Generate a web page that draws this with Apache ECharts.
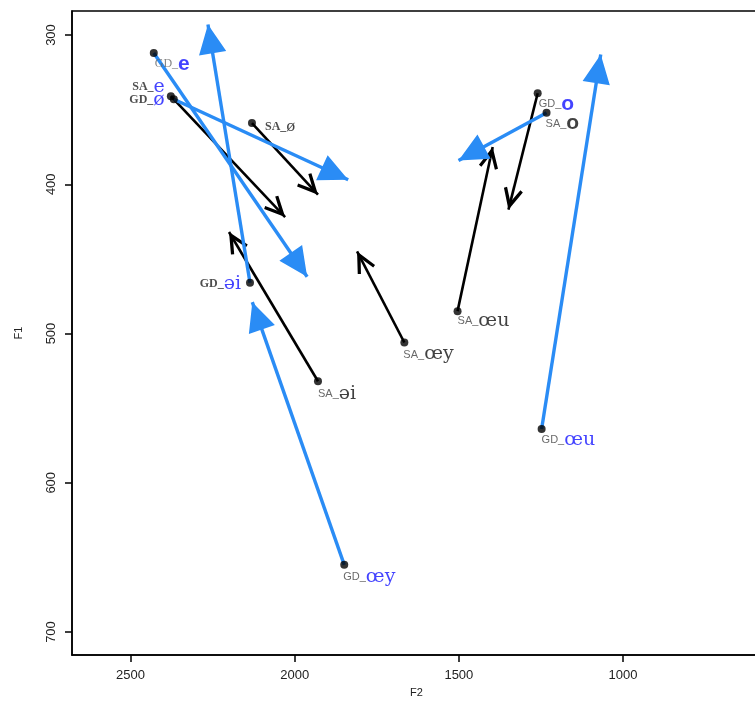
<!DOCTYPE html>
<html>
<head>
<meta charset="utf-8">
<script src="https://cdn.jsdelivr.net/npm/echarts@6/dist/echarts.min.js"></script>
<style>
  html, body { margin: 0; padding: 0; background: #fff; }
  #main { width: 755px; height: 717px; }
</style>
</head>
<body>
<div id="main"></div>
<script>
// vowel trajectories: start point (dot) -> end point (arrow tip), F2 (x) / F1 (y)
var names   = ['GD_e', 'SA_e', 'GD_ø', 'SA_ø', 'GD_əi', 'SA_əi', 'SA_œy', 'SA_œu', 'GD_o', 'SA_o', 'GD_œu', 'GD_œy'];
var startF2 = [2429, 2377, 2368, 2130, 2136, 1929, 1666, 1504, 1260, 1233, 1248, 1849];
var startF1 = [312, 341, 343, 359, 466, 532, 506, 485, 339, 352, 564, 655];
var endF2   = [1962, 2029, 1837, 1929, 2264, 2200, 1810, 1397, 1349, 1501, 1068, 2129];
var endF1   = [462, 422, 397, 407, 293, 432, 445, 375, 417, 384, 313, 479];
// which ink the arrow is drawn in
var arrowInk = ['blue', 'black', 'blue', 'black', 'blue', 'black', 'black', 'black', 'black', 'blue', 'blue', 'blue'];

var xTicks = [1000, 1500, 2000, 2500];
var yTicks = [300, 400, 500, 600, 700];

// label look, per point: [dx, dy, align, prefix style, vowel style]
var labelLook = {
  'GD_e':  [1, 11, 'left', 'ps', 'vsb'],
  'SA_e':  [-6, -9, 'right', 'psk', 'vb'],
  'GD_ø':  [-9, 1, 'right', 'psk', 'vb'],
  'SA_ø':  [13, 4, 'left', 'psk', 'vks'],
  'GD_əi': [-9, 1, 'right', 'psk', 'vb'],
  'SA_əi': [0, 13, 'left', 'pn', 'vk'],
  'SA_œy': [-1, 12, 'left', 'pn', 'vk'],
  'SA_œu': [0, 10, 'left', 'pn', 'vk'],
  'GD_o':  [1, 11, 'left', 'pn', 'vsb'],
  'SA_o':  [-1, 11, 'left', 'pn', 'vsk'],
  'GD_œu': [0, 11, 'left', 'pn', 'vb'],
  'GD_œy': [-1, 12, 'left', 'pn', 'vb']
};

var vowelBlue = '#1414ff';
var lineBlue = '#2a8cf5';

var richStyles = {
  ps:  { fontFamily: 'Liberation Serif', fontSize: 12, color: '#666' },
  psk: { fontFamily: 'Liberation Serif', fontSize: 12, fontWeight: 'bold', color: '#222' },
  pn:  { fontFamily: 'Liberation Sans', fontSize: 11, color: '#444' },
  vb:  { fontFamily: 'DejaVu Serif', fontSize: 19, color: vowelBlue },
  vk:  { fontFamily: 'DejaVu Serif', fontSize: 19, color: '#111' },
  vks: { fontFamily: 'DejaVu Serif', fontSize: 15, color: '#111' },
  vsb: { fontFamily: 'Liberation Sans', fontSize: 21, fontWeight: 'bold', color: vowelBlue },
  vsk: { fontFamily: 'Liberation Sans', fontSize: 21, fontWeight: 'bold', color: '#111' }
};

// arrow heads drawn in a square box whose centre is the tip (corner dummies fix the box)
var filledHead = 'path://M0 0 L0.01 0 L0 0.01 Z M40 40 L39.99 40 L40 39.99 Z M20 20 L29.5 40 L10.5 40 Z';
var openHead = 'path://M0 0 L0.01 0 L0 0.01 Z M32 32 L31.99 32 L32 31.99 Z M16 16 L22.5 29.5 L20.6 30.5 L16 21.2 L11.4 30.5 L9.5 29.5 Z';

var blueLines = [], blackLines = [], dots = [];
for (var i = 0; i < names.length; i++) {
  var seg = { coords: [[startF2[i], startF1[i]], [endF2[i], endF1[i]]] };
  if (arrowInk[i] === 'blue') blueLines.push(seg); else blackLines.push(seg);
  var lk = labelLook[names[i]];
  var parts = names[i].split('_');
  dots.push({
    value: [startF2[i], startF1[i]],
    label: {
      show: true,
      position: 'inside',
      align: lk[2],
      verticalAlign: 'middle',
      offset: [lk[0], lk[1]],
      formatter: '{' + lk[3] + '|' + parts[0] + '_}{' + lk[4] + '|' + parts[1] + '}',
      rich: richStyles
    }
  });
}

function plain(v) { return String(v); }

var chart = echarts.init(document.getElementById('main'));
chart.setOption({
  animation: false,
  backgroundColor: '#fff',
  grid: {
    left: 72, top: 11, right: -6, bottom: 62,
    show: true, borderColor: '#000', borderWidth: 1.5,
    outerBoundsMode: 'none'
  },
  xAxis: {
    type: 'value', inverse: true, min: 580, max: 2678,
    name: 'F2', nameLocation: 'middle', nameGap: 32,
    nameTextStyle: { fontFamily: 'Liberation Sans', fontSize: 11, color: '#222' },
    splitLine: { show: false },
    axisLine: { show: true, lineStyle: { color: '#000', width: 1.5 } },
    axisTick: { show: true, customValues: xTicks, length: 7, lineStyle: { color: '#000', width: 1.5 } },
    axisLabel: { customValues: xTicks, formatter: plain, margin: 14, fontFamily: 'Liberation Sans', fontSize: 13, color: '#222' }
  },
  yAxis: {
    type: 'value', inverse: true, min: 283.9, max: 715.4,
    name: 'F1', nameLocation: 'middle', nameGap: 48, nameRotate: 90,
    nameTextStyle: { fontFamily: 'Liberation Sans', fontSize: 11, color: '#222' },
    splitLine: { show: false },
    axisLine: { show: true, lineStyle: { color: '#000', width: 1.5 } },
    axisTick: { show: true, customValues: yTicks, length: 7, lineStyle: { color: '#000', width: 1.5 } },
    axisLabel: { customValues: yTicks, formatter: plain, rotate: 90, margin: 14, fontFamily: 'Liberation Sans', fontSize: 13, color: '#222' }
  },
  series: [
    {
      type: 'lines', coordinateSystem: 'cartesian2d', z: 2,
      symbol: ['none', openHead], symbolSize: 48,
      lineStyle: { color: '#000', width: 2.6, opacity: 1 },
      data: blackLines
    },
    {
      type: 'lines', coordinateSystem: 'cartesian2d', z: 3,
      symbol: ['none', filledHead], symbolSize: 58,
      lineStyle: { color: lineBlue, width: 3.4, opacity: 1 },
      data: blueLines
    },
    {
      type: 'scatter', z: 4,
      symbol: 'circle', symbolSize: 8,
      itemStyle: { color: '#000' },
      data: dots
    }
  ]
});
</script>
</body>
</html>
